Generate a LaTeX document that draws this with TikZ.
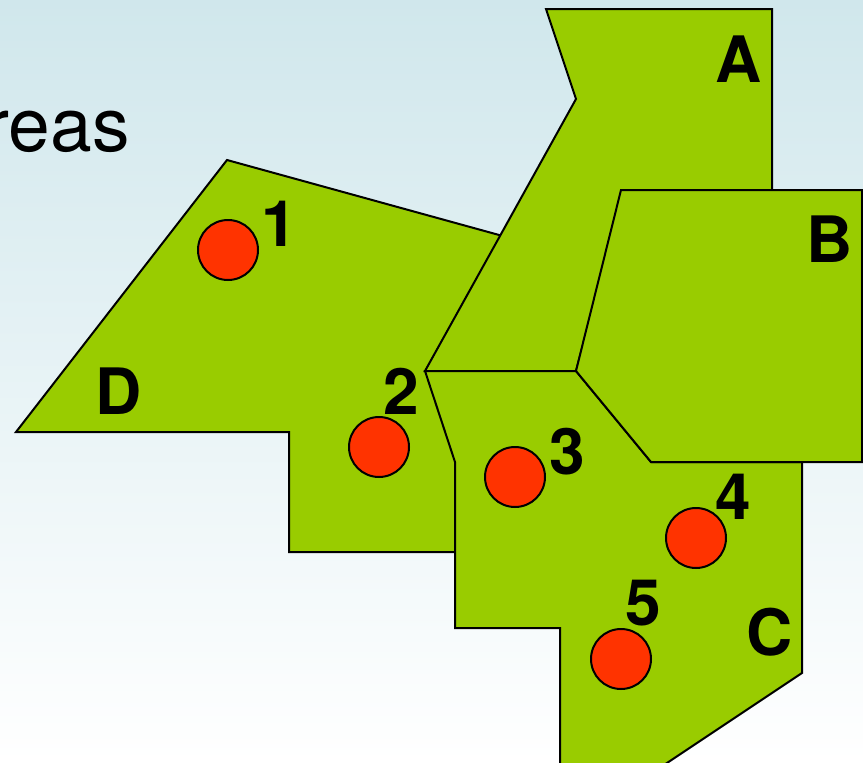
\documentclass[tikz,border=0pt]{standalone}
\usepackage{fontspec}
\setmainfont{TeX Gyre Heros}
\definecolor{regiongreen}{RGB}{153,204,0}
\definecolor{dotred}{RGB}{255,51,0}
\definecolor{skytop}{RGB}{208,231,236}
\begin{document}
\begin{tikzpicture}[x=1pt, y=-1pt, region/.style={draw=black, line width=2pt, fill=regiongreen, line join=miter},
	site/.style={circle, draw=black, line width=2pt, fill=dotred, minimum size=60pt, inner sep=0pt},
	tag/.style={font=\bfseries\fontsize{64}{64}\selectfont, text=black, inner sep=0pt}]
	
	% Background and page size
	\useasboundingbox (0,0) rectangle (863,763);
	\clip (0,0) rectangle (863,763);
	\shade[top color=skytop, bottom color=white] (0,0) rectangle (863,763);
	\node[anchor=base west, inner sep=0pt, font=\fontsize{75}{75}\selectfont] (word) at (-15.5,151) {reas};
	
	% Draw the regions
	\draw[region] (227,160) -- (510,238) -- (470,400) -- (470,552) -- (289,552) -- (289,432) -- (16,432) -- cycle;
	\draw[region] (546,9) -- (772,9) -- (772,200) -- (621,200) -- (576,371) -- (425,371) -- (576,99) -- cycle;
	\draw[region] (425,371) -- (576,371) -- (651,462) -- (802,462) -- (802,673) -- (652,773) -- (560,773) -- (560,628) -- (455,628) -- (455,462) -- cycle;
	\draw[region] (621,190) -- (862,190) -- (862,462) -- (651,462) -- (576,371) -- cycle;
	
	% Draw the numbered sites
	\node[site] (s1) at (228,250) {};
	\node[site] (s2) at (379,447) {};
	\node[site] (s3) at (515,477) {};
	\node[site] (s4) at (696,538) {};
	\node[site] (s5) at (621,659) {};
	\node[tag] (n1) at (279.5,224) {1};
	\node[tag] (n2) at (401,391) {2};
	\node[tag] (n3) at (567.5,452) {3};
	\node[tag] (n4) at (733.5,497) {4};
	\node[tag] (n5) at (643,603) {5};
	
	% Labeling the regions
	\node[tag] (la) at (738.5,59) {A};
	\node[tag] (lb) at (830,239) {B};
	\node[tag] (lc) at (769.5,632) {C};
	\node[tag] (ld) at (119,391) {D};
	
\end{tikzpicture}
\end{document}
